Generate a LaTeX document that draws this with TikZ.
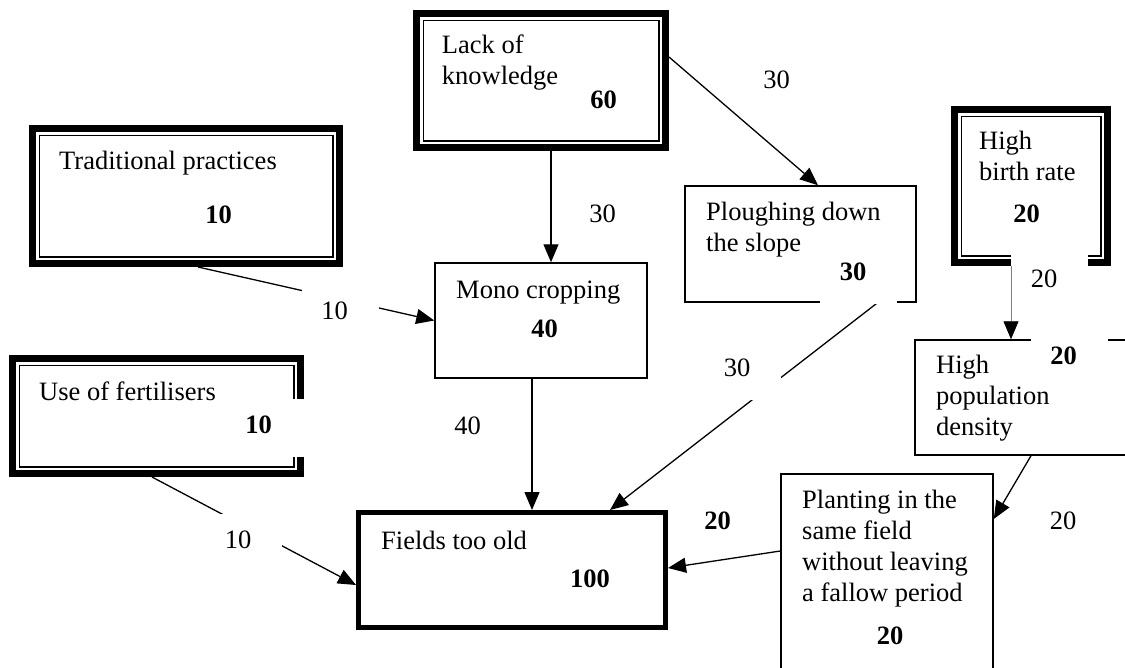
\documentclass[tikz,border=0pt]{standalone}
\usepackage{fontspec}
\setmainfont{Liberation Serif}
\usetikzlibrary{arrows.meta}
\begin{document}
\begin{tikzpicture}[x=1pt,y=-1pt,
  every node/.style={font=\fontsize{26.5}{30.8}\selectfont},
  srcbox/.style={draw, line width=7pt, inner sep=0pt,
    path picture={\draw[line width=1.5pt]
      ([shift={(6.75pt,-6.75pt)}]path picture bounding box.north west) rectangle
      ([shift={(-6.75pt,6.75pt)}]path picture bounding box.south east);}},
  plainbox/.style={draw, line width=1.5pt, inner sep=0pt},
  oldbox/.style={draw, line width=5pt, inner sep=0pt},
  % multi-line captions are placed by the baseline of their last line
  txt/.style={anchor=base west, align=left, inner sep=0pt},
  wt/.style={anchor=base, inner sep=0pt},
  num/.style={anchor=base, inner sep=0pt, font=\fontsize{26.5}{30.8}\selectfont\bfseries},
  cover/.style={fill=white, inner sep=0pt, minimum width=77pt, minimum height=58pt, anchor=north west},
  conn/.style={line width=1.3pt, -{Triangle[length=18pt,width=15pt]}}]
\useasboundingbox (0,0) rectangle (1125,667);
\clip (0,0) rectangle (1125,667);

% boxes
\node[srcbox, minimum width=249pt, minimum height=134pt] (lack) at (541,80.5) {};
\node[srcbox, minimum width=307pt, minimum height=135pt] (trad) at (186,196) {};
\node[srcbox, minimum width=288pt, minimum height=115pt] (fert) at (156.5,416) {};
\node[srcbox, minimum width=153pt, minimum height=153pt] (birth) at (1031,186) {};
\node[plainbox, minimum width=231pt, minimum height=116pt] (plough) at (800.5,244) {};
\node[plainbox, minimum width=212pt, minimum height=115pt] (mono) at (541,320.5) {};
\node[plainbox, minimum width=220pt, minimum height=115pt] (pop) at (1025,397.5) {};
\node[plainbox, minimum width=212pt, minimum height=216pt] (plant) at (887,582) {};
\node[oldbox, minimum width=307pt, minimum height=115pt] (fields) at (512,570) {};

% box captions
\node[txt] (lack-t) at (441.7,84.5) {Lack of\\knowledge};
\node[txt] (trad-t) at (59,169) {Traditional practices};
\node[txt] (fert-t) at (39,400) {Use of fertilisers};
\node[txt] (birth-t) at (979,180.5) {High\\birth rate};
\node[txt] (plough-t) at (706,251.5) {Ploughing down\\the slope};
\node[txt] (mono-t) at (456,298) {Mono cropping};
\node[txt] (pop-t) at (936,435) {High\\population\\density};
\node[txt] (plant-t) at (802,601) {Planting in the\\same field\\without leaving\\a fallow period};
\node[txt] (fields-t) at (381,549) {Fields too old};

% connectors
\draw[conn] ([yshift=23.5pt]lack.east) -- ([xshift=17.5pt]plough.north);
\draw[conn] ([xshift=10pt]lack.south) -- ([xshift=10pt]mono.north);
\draw[conn] ([xshift=12pt]trad.south) -- (mono.west);
\draw[conn] ([xshift=-4.5pt]fert.south) -- ([yshift=-15pt]fields.west);
\draw[conn] ([xshift=-9pt]mono.south) -- ([xshift=20pt]fields.north);
\draw[conn] ([xshift=77pt]plough.south) -- ([xshift=98pt]fields.north);
\draw[conn] ([yshift=31pt]plant.west) -- ([yshift=2pt]fields.east);
\draw[conn] ([xshift=6pt]pop.south) -- ([yshift=63pt]plant.east);

% white label boxes
\node[cover] (c-trad) at (301.5,285) {};
\node[cover] (c-fert) at (205,514) {};
\node[cover, minimum width=78pt] (c-fertn) at (226,399) {};
\node[cover] (c-birth) at (1011,253) {};
\node[cover] (c-ploughn) at (820,246) {};
\node[cover] (c-popn) at (1030.5,330) {};
\node[cover] (c-plough) at (704,342) {};

\draw[line width=0.8pt, draw=gray, -{Triangle[length=18pt,width=15pt,color=black]}]
  ([xshift=-20pt]birth.south) -- ([xshift=-14pt]pop.north);

% connector weights
\node[wt] (w-trad) at (334.5,319) {10};
\node[wt] (w-fert) at (238,548) {10};
\node[wt] (w-birth) at (1044,287) {20};
\node[wt] (w-plough) at (737,376) {30};
\node[wt] (w-lackp) at (776.5,88) {30};
\node[wt] (w-lackm) at (602.5,222) {30};
\node[wt] (w-mono) at (467.5,434) {40};
\node[wt] (w-pop) at (1063,529) {20};
\node[num] (w-plant) at (717.5,529) {20};

% box values
\node[num] (n-lack) at (603.5,108) {60};
\node[num] (n-trad) at (218.5,223) {10};
\node[num] (n-fert) at (258.5,433) {10};
\node[num] (n-mono) at (544.5,337) {40};
\node[num] (n-birth) at (1026.5,222) {20};
\node[num] (n-plough) at (853,280) {30};
\node[num] (n-pop) at (1063.5,364) {20};
\node[num] (n-plant) at (890,644) {20};
\node[num] (n-fields) at (590,587) {100};
\end{tikzpicture}
\end{document}
